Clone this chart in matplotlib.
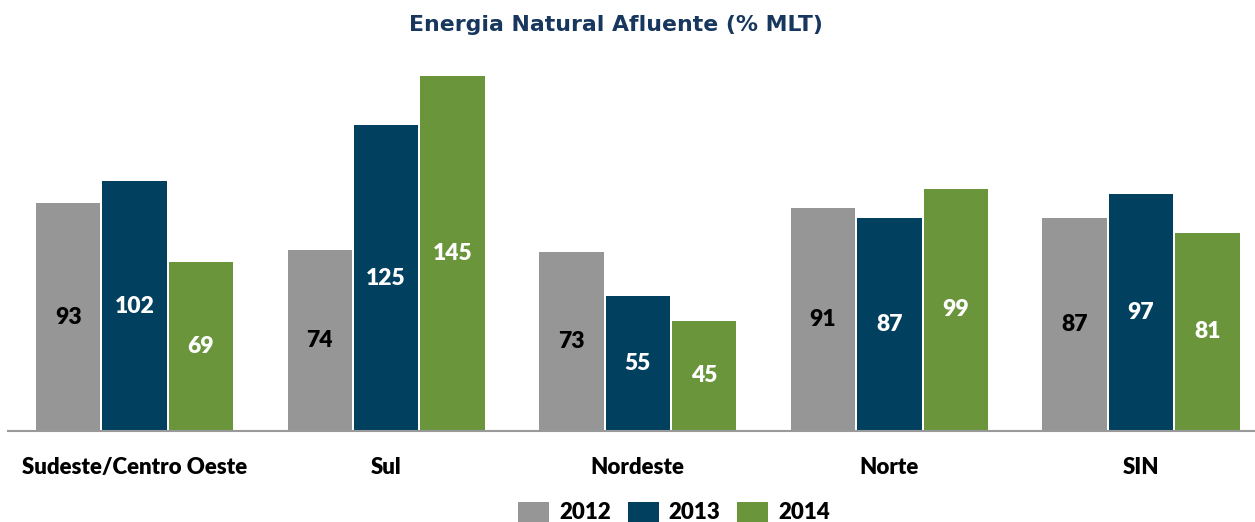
import matplotlib.pyplot as plt
import numpy as np

regions = ['Sudeste/Centro Oeste', 'Sul', 'Nordeste', 'Norte', 'SIN']
years = ['2012', '2013', '2014']
v2012 = [93, 74, 73, 91, 87]
v2013 = [102, 125, 55, 87, 97]
v2014 = [69, 145, 45, 99, 81]

colors = ['#969696', '#02405F', '#6A953B']
text_colors = ['black', 'white', 'white']

fig = plt.figure(figsize=(12.55, 5.22), dpi=100)
ax = fig.add_axes([8 / 1255, 91 / 522, 1 - 8 / 1255, 0.703])

x = np.arange(len(regions))
series = [v2012, v2013, v2014]
offsets = [-0.264, 0, 0.264]
for vals, off, c, tc, yr in zip(series, offsets, colors, text_colors, years):
    bars = ax.bar(x + off, vals, width=0.256, color=c, label=yr)
    for b, v in zip(bars, vals):
        ax.text(b.get_x() + b.get_width() / 2, v / 2, str(v), ha='center', va='center',
                color=tc, fontsize=16.5, fontweight='heavy', family='Lato')

ax.set_xlim(-0.503, 4.453)
ax.set_ylim(0, 150)
for s in ['top', 'right', 'left']:
    ax.spines[s].set_visible(False)
ax.spines['bottom'].set_color('#999999')
ax.spines['bottom'].set_linewidth(1.5)
ax.set_yticks([])
ax.set_xticks(x)
ax.set_xticklabels(regions, fontsize=16, fontweight='heavy', family='Lato')
ax.tick_params(axis='x', length=0, pad=19)

fig.text(0.491, 0.952, 'Energia Natural Afluente (% MLT)', ha='center', va='center',
         fontsize=15.8, fontweight='bold', color='#17375E', family='DejaVu Sans')

fig.legend(loc='center', bbox_to_anchor=(0.537, 0.018), ncol=3, frameon=False,
           prop={'family': 'Lato', 'weight': 'heavy', 'size': 16},
           handlelength=1.4, handleheight=1.0, handletextpad=0.45, columnspacing=0.75)

fig.savefig('out.png', dpi=100)
